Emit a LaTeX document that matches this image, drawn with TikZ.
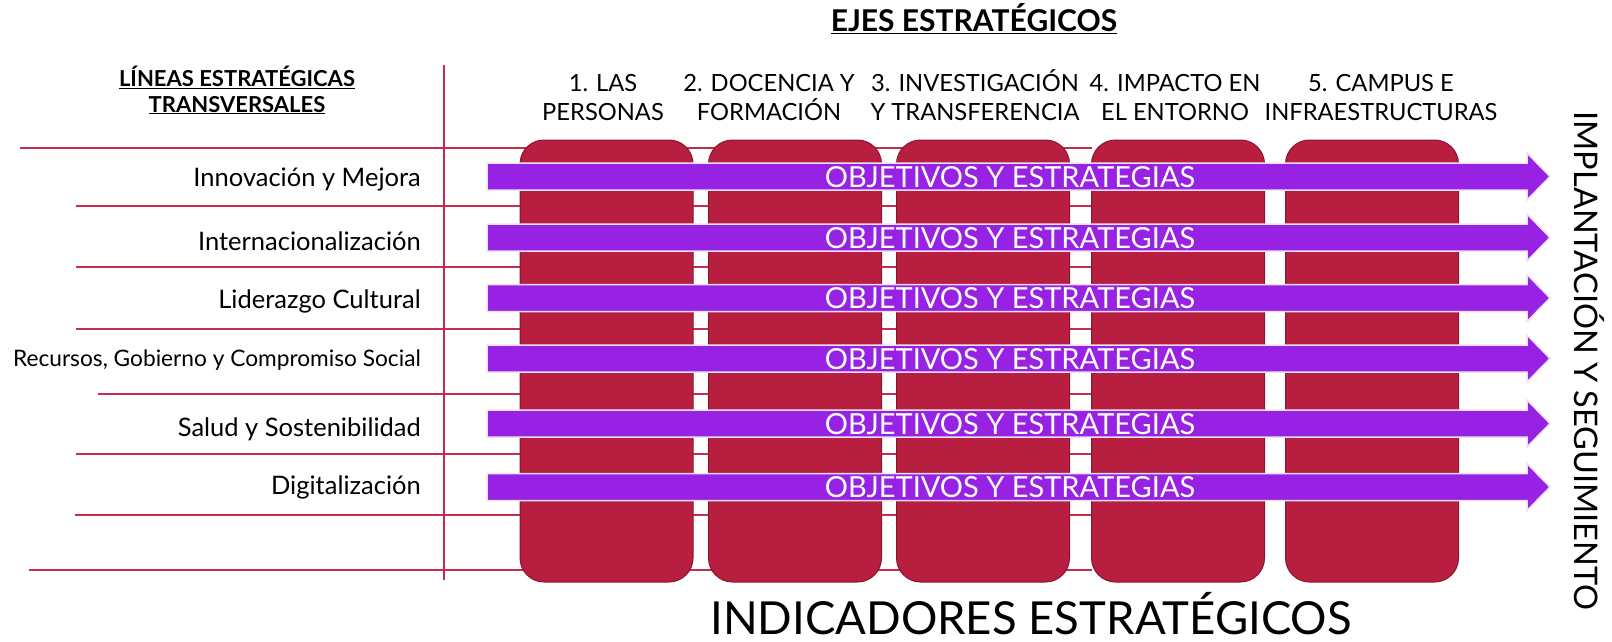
\documentclass[tikz,border=0pt]{standalone}
\usepackage{fontspec}
\setmainfont{Lato}
\definecolor{boxred}{RGB}{183,30,63}
\definecolor{boxedge}{RGB}{140,22,45}
\definecolor{linered}{RGB}{196,44,80}
\definecolor{barpurple}{RGB}{152,34,228}
\definecolor{barline}{RGB}{236,226,244}
\tikzset{
  gridline/.style={draw=linered, line width=1.5pt},
  axisbox/.style={draw=boxedge, fill=boxred, line width=1pt, rounded corners=24pt,
    minimum width=173pt, minimum height=442pt, inner sep=0pt},
  barshape/.style={fill=barpurple, draw=barline, line width=1.5pt},
  objtext/.style={text=white, font=\fontsize{29}{32}\selectfont, inner sep=0pt, anchor=base},
  rowlabel/.style={font=\fontsize{25.5}{30}\selectfont, inner sep=0pt, anchor=base east},
  smallrow/.style={font=\fontsize{22.7}{24}\selectfont, inner sep=0pt, anchor=base east},
  header/.style={font=\fontsize{23.7}{28}\selectfont, inner sep=0pt, anchor=base},
  maintitle/.style={font=\bfseries\fontsize{30}{32}\selectfont, inner sep=0pt, anchor=base},
  lefttitle/.style={font=\bfseries\fontsize{22}{24}\selectfont, inner sep=0pt, anchor=base},
  bigtext/.style={font=\fontsize{45.5}{50}\selectfont, inner sep=0pt, anchor=base, text depth=0pt},
  sidetext/.style={font=\fontsize{32.5}{36}\selectfont, inner sep=0pt, anchor=base, rotate=-90}
}
\begin{document}
\begin{tikzpicture}[x=1pt,y=-1pt]
\useasboundingbox (0,0) rectangle (1612,642);
% grid lines
\draw[gridline] (444,65) -- (444,580);
\foreach \xs/\yy in {20/148, 76/206, 76/267, 76/329, 98/394, 76/454, 75/515, 29/570}{
  \draw[gridline] (\xs,\yy) -- (1092,\yy);
}
% titles
\node[maintitle] (ejes) at (974,32) {\underline{EJES ESTRATÉGICOS}};
\node[lefttitle] (lin1) at (237,87) {\underline{LÍNEAS ESTRATÉGICAS}};
\node[lefttitle] (lin2) at (237,112) {\underline{TRANSVERSALES}};
% column headers
\node[header] (h1a) at (603,92) {1. LAS};
\node[header] (h1b) at (603,120) {PERSONAS};
\node[header] (h2a) at (769,92) {2. DOCENCIA Y};
\node[header] (h2b) at (769,120) {FORMACIÓN};
\node[header] (h3a) at (975,92) {3. INVESTIGACIÓN};
\node[header] (h3b) at (975,120) {Y TRANSFERENCIA};
\node[header] (h4a) at (1175,92) {4. IMPACTO EN};
\node[header] (h4b) at (1175,120) {EL ENTORNO};
\node[header] (h5a) at (1381,92) {5. CAMPUS E};
\node[header] (h5b) at (1381,120) {INFRAESTRUCTURAS};
% boxes
\node[axisbox] (b1) at (606.5,361) {};
\node[axisbox] (b2) at (795,361) {};
\node[axisbox] (b3) at (983,361) {};
\node[axisbox] (b4) at (1178,361) {};
\node[axisbox] (b5) at (1372,361) {};
% row labels
\node[rowlabel] (r1) at (421,186) {Innovación y Mejora};
\node[rowlabel] (r2) at (421,250) {Internacionalización};
\node[rowlabel] (r3) at (421,308) {Liderazgo Cultural};
\node[smallrow] (r4) at (421,366) {Recursos, Gobierno y Compromiso Social};
\node[rowlabel] (r5) at (421,436) {Salud y Sostenibilidad};
\node[rowlabel] (r6) at (421,494) {Digitalización};
% arrows
\foreach \yy/\n in {176.5/1, 237.5/2, 298/3, 358.5/4, 423.5/5, 487/6}{
  \filldraw[barshape] (487,{\yy-13.5}) -- (1527,{\yy-13.5}) -- (1527,{\yy-23.5})
    -- (1550,\yy) -- (1527,{\yy+23.5}) -- (1527,{\yy+13.5}) -- (487,{\yy+13.5}) -- cycle;
  \node[objtext] (o\n) at (1010,{\yy+10.5}) {OBJETIVOS Y ESTRATEGIAS};
}
% bottom and side texts
\node[bigtext] (ind) at (1031,634) {INDICADORES ESTRATÉGICOS};
\node[sidetext] (imp) at (1574,361) {IMPLANTACIÓN Y SEGUIMIENTO};
\end{tikzpicture}
\end{document}
